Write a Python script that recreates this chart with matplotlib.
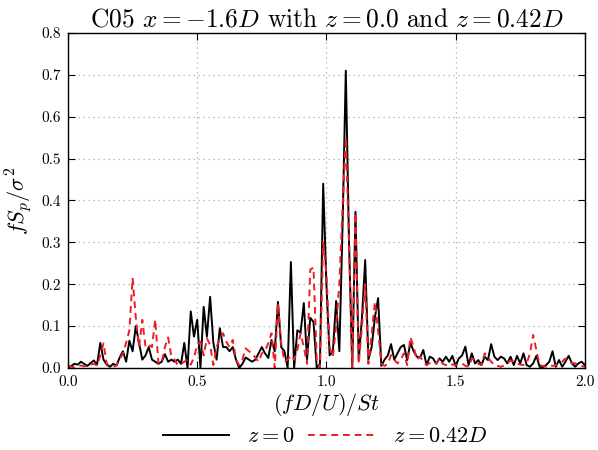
import numpy as np
import matplotlib
matplotlib.use("Agg")
import matplotlib.pyplot as plt

plt.rcParams['font.family'] = 'serif'
plt.rcParams['font.serif'] = ['cmr10']
plt.rcParams['mathtext.fontset'] = 'cm'
plt.rcParams['axes.formatter.use_mathtext'] = True
plt.rcParams['axes.unicode_minus'] = False

# frequency grid (fD/U)/St
freq = np.linspace(0.0, 2.0, 161)

spec_z0 = [
    0.0, 0.005, 0.01, 0.008, 0.015, 0.01, 0.005, 0.012, 0.018, 0.008,
    0.06, 0.02, 0.008, 0.003, 0.01, 0.006, 0.025, 0.04, 0.015, 0.065,
    0.04, 0.1, 0.06, 0.02, 0.03, 0.05, 0.02, 0.015, 0.01, 0.015,
    0.033, 0.015, 0.02, 0.015, 0.02, 0.01, 0.06, 0.0, 0.135, 0.075,
    0.115, 0.0, 0.146, 0.075, 0.17, 0.06, 0.02, 0.095, 0.05, 0.05,
    0.04, 0.05, 0.02, 0.0, 0.01, 0.025, 0.02, 0.015, 0.02, 0.035,
    0.05, 0.035, 0.024, 0.067, 0.04, 0.158, 0.05, 0.04, 0.0, 0.253,
    0.0, 0.09, 0.085, 0.155, 0.02, 0.12, 0.11, 0.0, 0.01, 0.44,
    0.2, 0.03, 0.04, 0.16, 0.04, 0.34, 0.71, 0.3, 0.0, 0.373,
    0.02, 0.12, 0.258, 0.02, 0.05, 0.12, 0.167, 0.005, 0.02, 0.03,
    0.057, 0.02, 0.035, 0.05, 0.055, 0.019, 0.06, 0.04, 0.027, 0.025,
    0.043, 0.007, 0.027, 0.023, 0.01, 0.023, 0.015, 0.027, 0.015, 0.029,
    0.005, 0.023, 0.03, 0.051, 0.007, 0.035, 0.011, 0.019, 0.007, 0.027,
    0.019, 0.057, 0.027, 0.019, 0.027, 0.023, 0.011, 0.027, 0.007, 0.029,
    0.011, 0.035, 0.007, 0.003, 0.011, 0.029, 0.003, 0.002, 0.007, 0.015,
    0.04, 0.003, 0.019, 0.003, 0.015, 0.029, 0.011, 0.003, 0.011, 0.015,
    0.007,
]

spec_z042 = [
    0.005, 0.003, 0.002, 0.004, 0.006, 0.004, 0.005, 0.008, 0.01, 0.006,
    0.03, 0.059, 0.01, 0.005, 0.003, 0.006, 0.02, 0.035, 0.06, 0.09,
    0.215, 0.12, 0.05, 0.115, 0.05, 0.055, 0.05, 0.116, 0.01, 0.012,
    0.05, 0.073, 0.027, 0.02, 0.007, 0.01, 0.015, 0.02, 0.008, 0.025,
    0.055, 0.063, 0.03, 0.071, 0.055, 0.007, 0.05, 0.07, 0.083, 0.063,
    0.05, 0.067, 0.02, 0.007, 0.02, 0.047, 0.04, 0.035, 0.025, 0.015,
    0.035, 0.04, 0.06, 0.083, 0.0, 0.154, 0.06, 0.015, 0.02, 0.03,
    0.02, 0.043, 0.083, 0.05, 0.01, 0.235, 0.24, 0.02, 0.0, 0.3,
    0.226, 0.05, 0.027, 0.1, 0.2, 0.385, 0.55, 0.3, 0.0, 0.37,
    0.01, 0.1, 0.2, 0.01, 0.08, 0.158, 0.09, 0.011, 0.005, 0.01,
    0.031, 0.02, 0.011, 0.02, 0.035, 0.007, 0.074, 0.05, 0.02, 0.027,
    0.015, 0.007, 0.012, 0.015, 0.011, 0.023, 0.01, 0.007, 0.011, 0.008,
    0.007, 0.01, 0.011, 0.005, 0.003, 0.023, 0.019, 0.01, 0.007, 0.035,
    0.025, 0.015, 0.007, 0.005, 0.003, 0.006, 0.011, 0.018, 0.015, 0.011,
    0.008, 0.007, 0.011, 0.035, 0.079, 0.043, 0.007, 0.005, 0.003, 0.007,
    0.005, 0.007, 0.011, 0.015, 0.023, 0.015, 0.012, 0.011, 0.007, 0.005,
    0.003,
]

labels = [r'$z=0$', r'$z=0.42D$']
title = r'C05 $x=-1.6D$ with $z=0.0$ and $z=0.42D$'

fig = plt.figure(figsize=(5.98, 4.5), dpi=100)
ax = fig.add_axes([0.1137, 0.1822, 0.978 - 0.1137, 0.9267 - 0.1822])

l1, = ax.plot(freq, spec_z0, color='black', lw=1.4, label=labels[0])
l2, = ax.plot(freq, spec_z042, color='#ee1c25', lw=1.4, ls=(0, (3.5, 2.5)), label=labels[1])

ax.set_xlim(0, 2.0)
ax.set_ylim(0, 0.8)
ax.set_xticks(np.arange(0, 2.01, 0.5))
ax.set_yticks(np.arange(0, 0.81, 0.1))
ax.set_xticklabels(['0.0', '0.5', '1.0', '1.5', '2.0'])
ax.set_yticklabels(['0.0', '0.1', '0.2', '0.3', '0.4', '0.5', '0.6', '0.7', '0.8'])
ax.tick_params(direction='in', top=True, right=True, length=5, labelsize=11, pad=5)
ax.grid(True, ls=(0, (1, 3)), color='#aaaaaa', lw=0.9)
for s in ax.spines.values():
    s.set_linewidth(1.0)

ax.set_title(title, fontsize=18.3, pad=5)
ax.set_xlabel(r'$(fD/U)/St$', fontsize=16, labelpad=2)
ax.set_ylabel(r'$fS_p/\sigma^2$', fontsize=16, labelpad=5)

fig.legend(handles=[l1, l2], loc='center', bbox_to_anchor=(0.5435, 0.03), ncol=2,
           frameon=False, fontsize=16, handlelength=3.0, columnspacing=0.6, handletextpad=0.8)

fig.savefig('out.png', dpi=100)
